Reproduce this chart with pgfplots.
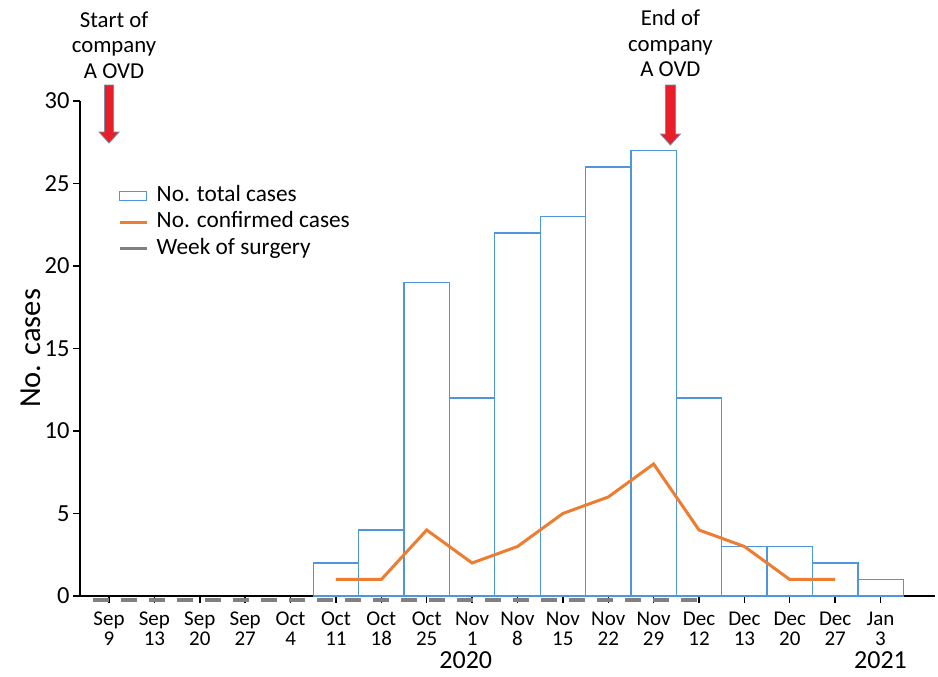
\documentclass[border=0pt]{standalone}
\usepackage{fontspec}
\setmainfont{Carlito}
\usepackage{pgfplots}
\pgfplotsset{compat=1.18}
\definecolor{barblue}{RGB}{80,150,220}
\definecolor{lineorange}{RGB}{237,125,49}
\definecolor{surggray}{RGB}{128,128,128}
\definecolor{arrowred}{RGB}{232,30,40}
\definecolor{arrowedge}{RGB}{120,140,170}
\begin{document}
\begin{tikzpicture}
\begin{axis}[
  scale only axis, width=855pt, height=495pt,
  xmin=-0.64, xmax=18.2, ymin=0, ymax=30,
  axis lines=left, axis line style={line width=1.6pt, -},
  clip=false,
  xtick={0,...,17},
  xticklabels={{Sep\\9},{Sep\\13},{Sep\\20},{Sep\\27},{Oct\\4},{Oct\\11},{Oct\\18},{Oct\\25},{Nov\\1},{Nov\\8},{Nov\\15},{Nov\\22},{Nov\\29},{Dec\\12},{Dec\\13},{Dec\\20},{Dec\\27},{Jan\\3}},
  xticklabel style={align=center, font=\fontsize{21}{20.5}\selectfont, yshift=-5pt},
  ytick={0,5,...,30},
  yticklabel style={font=\fontsize{24.5}{24.5}\selectfont},
  tick style={black, line width=1.4pt},
  tick align=outside, major tick length=7pt,
  ylabel={No. cases}, ylabel style={font=\fontsize{30.5}{30.5}\selectfont},
  ylabel shift=-3pt,
  /pgf/number format/assume math mode=true,
  legend style={at={(0.0445,0.834)}, anchor=north west, draw=none, fill=none,
    font=\fontsize{23.3}{23.3}\selectfont, row sep=1.5pt, inner sep=0pt,
    nodes={text height=16pt, text depth=5pt}},
  legend cell align=left,
]
\addplot[ybar, bar width=1, draw=barblue, fill=white, line width=1.3pt,
  legend image code/.code={\draw[barblue, fill=white, line width=1.2pt] (0pt,-4.5pt) rectangle (27pt,4.5pt); \path (33pt,0pt);}]
  coordinates {(5,2) (6,4) (7,19) (8,12) (9,22) (10,23) (11,26) (12,27) (13,12) (14,3) (15,3) (16,2) (17,1)};
\addlegendentry{No. total cases}
\addplot[lineorange, line width=3pt, mark=none,
  legend image code/.code={\draw[lineorange, line width=3pt] (0pt,0pt) -- (27pt,0pt); \path (33pt,0pt);}]
  coordinates {(5,1) (6,1) (7,4) (8,2) (9,3) (10,5) (11,6) (12,8) (13,4) (14,3) (15,1) (16,1)};
\addlegendentry{No. confirmed cases}
\addplot[surggray, line width=4pt, dash pattern=on 16pt off 12pt, mark=none,
  legend image code/.code={\draw[surggray, solid, line width=3pt] (0pt,0pt) -- (27pt,0pt); \path (33pt,0pt);}]
  coordinates {(-0.35,-0.25) (13.1,-0.25)};
\addlegendentry{Week of surgery}
% arrows
\filldraw[fill=arrowred, draw=arrowedge, line width=0.8pt, shift={(axis cs:0,27.45)}]
  (-4.5pt,58pt) -- (-4.5pt,11pt) -- (-10pt,11pt) -- (0pt,0pt) -- (10pt,11pt) -- (4.5pt,11pt) -- (4.5pt,58pt) -- cycle;
\filldraw[fill=arrowred, draw=arrowedge, line width=0.8pt, shift={(axis cs:12.37,27.33)}]
  (-5pt,60pt) -- (-5pt,11pt) -- (-10pt,11pt) -- (0pt,0pt) -- (10pt,11pt) -- (5pt,11pt) -- (5pt,60pt) -- cycle;
\node[align=center, font=\fontsize{22.8}{25.5}\selectfont] at (axis cs:0.11,33.4) {Start of\\company\\A OVD};
\node[align=center, font=\fontsize{22.8}{25.5}\selectfont] at (axis cs:12.37,33.5) {End of\\company\\A OVD};
\node[font=\fontsize{26}{26}\selectfont, yshift=-64pt] at (axis cs:7.86,0) {2020};
\node[font=\fontsize{26}{26}\selectfont, yshift=-64pt] at (axis cs:17,0) {2021};
\end{axis}
\pgfresetboundingbox
\path[use as bounding box] (-80pt,-81pt) rectangle (858pt,596pt);
\end{tikzpicture}
\end{document}
